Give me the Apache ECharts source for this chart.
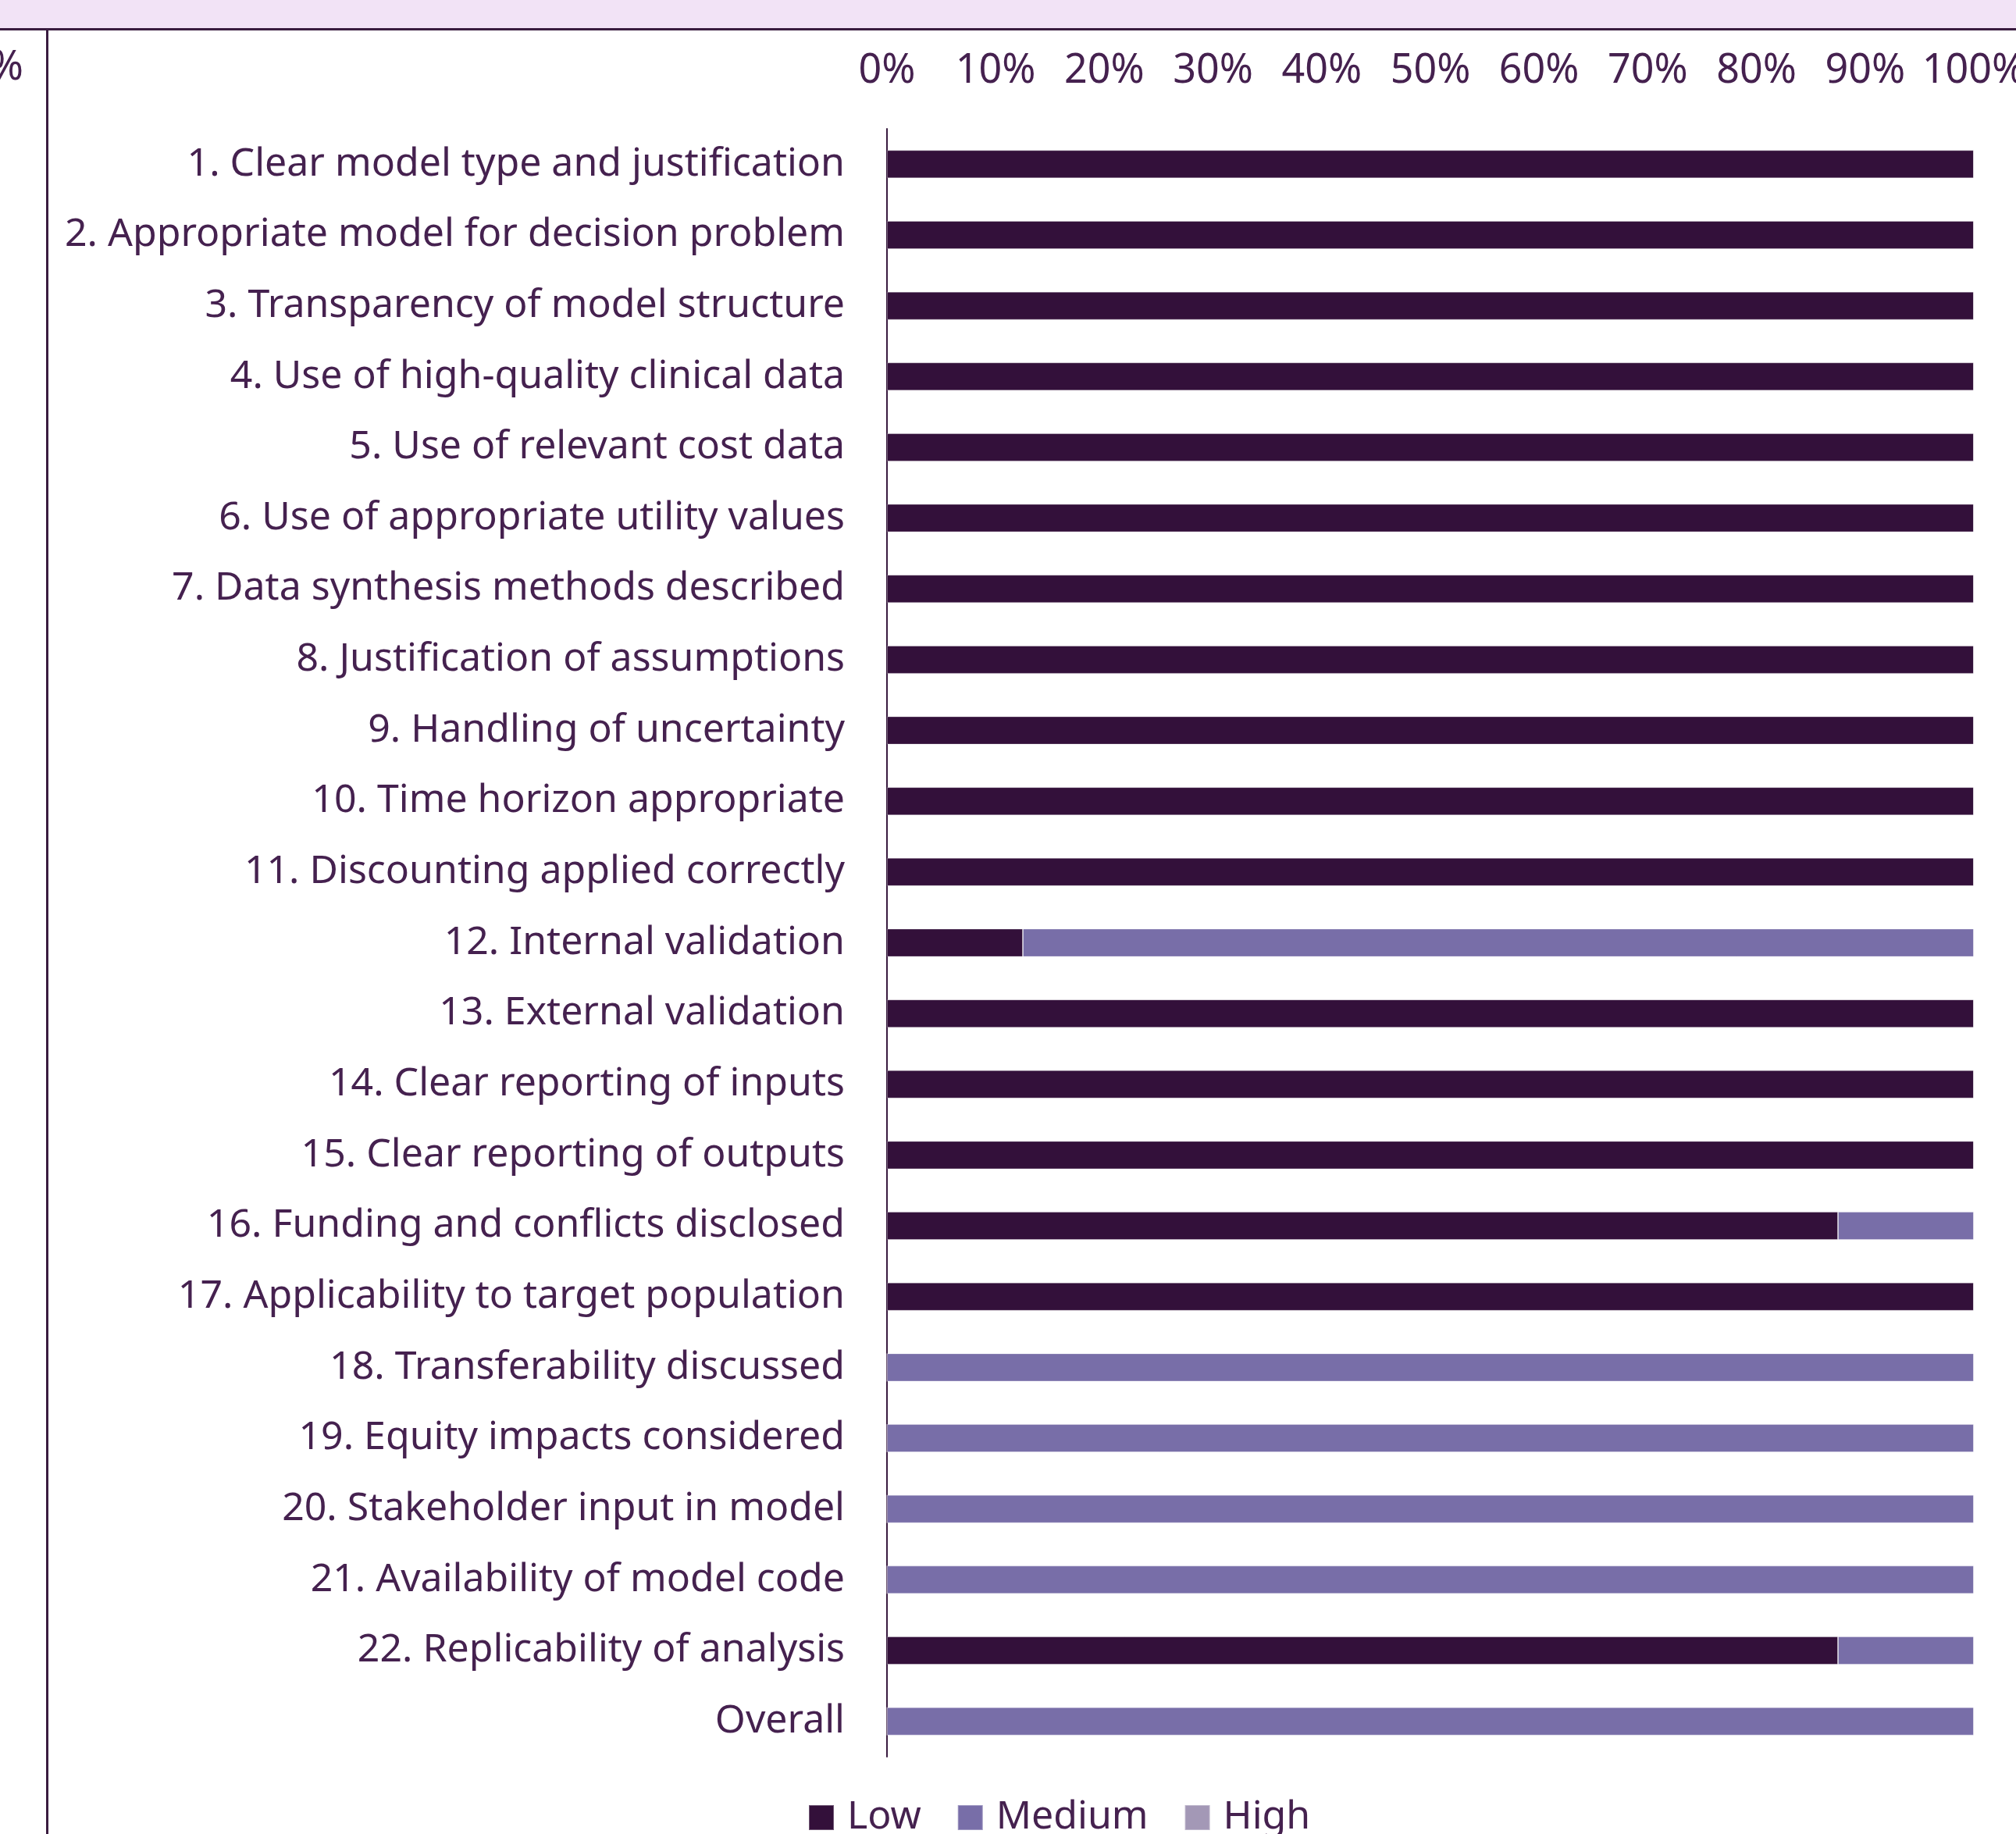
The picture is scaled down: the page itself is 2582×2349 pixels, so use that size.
<!DOCTYPE html>
<html>
<head>
<meta charset="utf-8">
<script src="https://cdn.jsdelivr.net/npm/echarts@6/dist/echarts.min.js"></script>
<style>
html,body{margin:0;padding:0;background:#fff;}
#chart{width:2582px;height:2349px;}
</style>
</head>
<body>
<div id="chart"></div>
<script>
var categories = [
  "1. Clear model type and justification",
  "2. Appropriate model for decision problem",
  "3. Transparency of model structure",
  "4. Use of high-quality clinical data",
  "5. Use of relevant cost data",
  "6. Use of appropriate utility values",
  "7. Data synthesis methods described",
  "8. Justification of assumptions",
  "9. Handling of uncertainty",
  "10. Time horizon appropriate",
  "11. Discounting applied correctly",
  "12. Internal validation",
  "13. External validation",
  "14. Clear reporting of inputs",
  "15. Clear reporting of outputs",
  "16. Funding and conflicts disclosed",
  "17. Applicability to target population",
  "18. Transferability discussed",
  "19. Equity impacts considered",
  "20. Stakeholder input in model",
  "21. Availability of model code",
  "22. Replicability of analysis",
  "Overall"
];
var lowValues    = [100,100,100,100,100,100,100,100,100,100,100,12.5,100,100,100,87.5,100,0,0,0,0,87.5,0];
var mediumValues = [0,0,0,0,0,0,0,0,0,0,0,87.5,0,0,0,12.5,0,100,100,100,100,12.5,100];
var highValues   = [0,0,0,0,0,0,0,0,0,0,0,0,0,0,0,0,0,0,0,0,0,0,0];
var tickLabels = ["0%","10%","20%","30%","40%","50%","60%","70%","80%","90%","100%"];

var textColor = '#45214f';
var catFont = "'Noto Sans', 'Open Sans', sans-serif";
var tickFont = "'Noto Sans', sans-serif";

var chart = echarts.init(document.getElementById('chart'), null, {renderer:'canvas'});
function bar(name, data, color){
  return {
    name: name, type: 'bar', stack: 'total', data: data, barWidth: 36,
    itemStyle: {color: color, borderColor: 'rgba(255,255,255,0.3)', borderWidth: 1},
    emphasis: {disabled: true}
  };
}
chart.setOption({
  animation: false,
  backgroundColor: '#ffffff',
  grid: {left: 1136, right: 54, top: 165, bottom: 99, containLabel: false, outerBoundsMode: 'none'},
  xAxis: {
    type: 'value', position: 'top', min: 0, max: 100, interval: 10,
    axisLine: {show: false}, axisTick: {show: false}, splitLine: {show: false},
    axisLabel: {
      margin: 48, color: textColor, fontSize: 52, fontFamily: tickFont,
      formatter: function(v){ return tickLabels[Math.round(v/10)]; }
    }
  },
  yAxis: {
    type: 'category', inverse: true, data: categories,
    axisLine: {show: true, lineStyle: {color: '#3a1c40', width: 2}},
    axisTick: {show: false},
    axisLabel: {margin: 54, color: textColor, fontSize: 50, fontFamily: catFont, padding: [6,0,0,0]}
  },
  legend: {
    left: 1030, top: 2298, itemWidth: 32, itemHeight: 32, itemGap: 46, icon: 'rect',
    textStyle: {color: textColor, fontSize: 50, fontFamily: catFont, padding: [0,0,0,12]},
    data: ['Low','Medium','High']
  },
  series: [
    bar('Low', lowValues, '#33103a'),
    bar('Medium', mediumValues, '#786ea8'),
    bar('High', highValues, '#a398b6')
  ],
  graphic: [
    {type: 'rect', shape: {x: 0, y: 0, width: 2582, height: 37}, style: {fill: '#f2e3f6'}, silent: true},
    {type: 'rect', shape: {x: 0, y: 36, width: 2582, height: 3}, style: {fill: '#3a1c40'}, silent: true},
    {type: 'rect', shape: {x: 59, y: 37, width: 3, height: 2312}, style: {fill: '#3a1c40'}, silent: true},
    {type: 'text', x: 30, y: 87, style: {text: '100%', fill: textColor, fontSize: 52, fontFamily: tickFont, align: 'right', verticalAlign: 'middle'}, silent: true}
  ]
});
</script>
</body>
</html>
